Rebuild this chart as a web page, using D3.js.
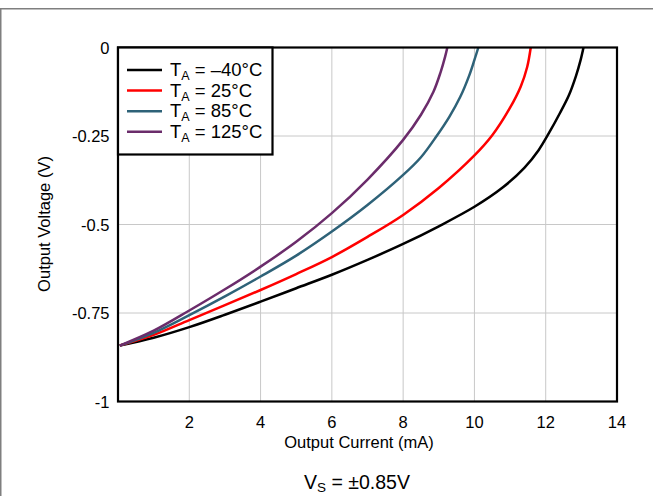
<!DOCTYPE html>
<html><head><meta charset="utf-8">
<script src="https://cdn.jsdelivr.net/npm/d3@7"></script>
<style>body{margin:0;background:#fff}svg{display:block}text{font-family:"Liberation Sans",Arial,sans-serif;fill:#000}</style>
</head><body><div id="chart"></div>
<script>
const xTicks = [2, 4, 6, 8, 10, 12, 14];
const yTicks = [0, -0.25, -0.5, -0.75, -1];
const yTickLabels = ["0", "-0.25", "-0.5", "-0.75", "-1"];
const seriesNames = ["–40°C", "25°C", "85°C", "125°C"];
const seriesColors = ["#000000", "#ff0000", "#2e6278", "#6b2c6b"];
const ta_m40 = [[0.05,-0.842],[1,-0.82],[2,-0.79],[3,-0.755],[4,-0.718],[5,-0.68],[6,-0.642],[7,-0.60],[8,-0.555],[9,-0.505],[10,-0.45],[10.8,-0.395],[11.4,-0.34],[11.8,-0.29],[12.1,-0.24],[12.4,-0.185],[12.65,-0.135],[12.85,-0.08],[12.98,-0.035],[13.06,0]];
const ta_25 = [[0.05,-0.842],[1,-0.812],[2,-0.77],[3,-0.728],[4,-0.685],[5,-0.64],[6,-0.592],[7,-0.535],[8,-0.473],[9,-0.397],[10,-0.305],[10.5,-0.248],[11,-0.17],[11.3,-0.11],[11.48,-0.055],[11.58,0]];
const ta_85 = [[0.05,-0.842],[1,-0.806],[2,-0.756],[3,-0.703],[4,-0.647],[5,-0.588],[6,-0.52],[7,-0.445],[8,-0.36],[8.5,-0.31],[8.94,-0.25],[9.3,-0.195],[9.6,-0.14],[9.85,-0.08],[10.0,-0.035],[10.11,0]];
const ta_125 = [[0.05,-0.842],[1,-0.80],[2,-0.743],[3,-0.683],[4,-0.619],[5,-0.549],[6,-0.468],[7,-0.373],[8,-0.261],[8.5,-0.19],[8.85,-0.125],[9.05,-0.07],[9.18,-0.025],[9.24,0]];
const series = [ta_m40, ta_25, ta_85, ta_125];

const W = 653, H = 496;
const m = {left: 118, right: 617, top: 47.5, bottom: 401.5};
const svg = d3.select("#chart").append("svg").attr("width", W).attr("height", H);

// outer frame
svg.append("path").attr("d", `M0.75,${H} V8.75 H${W}`).attr("fill","none").attr("stroke","#7f7f7f").attr("stroke-width",1.5);

const x = d3.scaleLinear().domain([0, 14]).range([m.left, m.right]);
const y = d3.scaleLinear().domain([-1, 0]).range([m.bottom, m.top]);

// grid
const g = svg.append("g");
g.selectAll(".vg").data(xTicks.filter(t => t < 14)).join("line")
  .attr("x1", d => x(d)).attr("x2", d => x(d)).attr("y1", m.top).attr("y2", m.bottom)
  .attr("stroke", "#c8c8c8").attr("stroke-width", 1);
g.selectAll(".hg").data(yTicks.filter(t => t < 0 && t > -1)).join("line")
  .attr("y1", d => y(d)).attr("y2", d => y(d)).attr("x1", m.left).attr("x2", m.right)
  .attr("stroke", "#c8c8c8").attr("stroke-width", 1);

// curves
const line = d3.line().x(d => x(d[0])).y(d => y(d[1])).curve(d3.curveCatmullRom.alpha(0.5));
svg.append("g").selectAll("path").data(series).join("path")
  .attr("d", line).attr("fill", "none")
  .attr("stroke", (d, i) => seriesColors[i]).attr("stroke-width", 2.5);

// plot border
svg.append("rect").attr("x", m.left).attr("y", m.top).attr("width", m.right - m.left).attr("height", m.bottom - m.top)
  .attr("fill", "none").attr("stroke", "#000").attr("stroke-width", 2.2);

// tick labels
svg.append("g").selectAll("text").data(xTicks).join("text")
  .attr("x", d => x(d)).attr("y", 428).attr("text-anchor", "middle").attr("font-size", 16.5).text(d => d);
svg.append("g").selectAll("text").data(yTicks).join("text")
  .attr("x", 109.5).attr("y", d => y(d) + 6).attr("text-anchor", "end").attr("font-size", 16.5)
  .text((d, i) => yTickLabels[i]);

// axis titles
svg.append("text").attr("x", 359).attr("y", 448).attr("text-anchor", "middle").attr("font-size", 16.5).text("Output Current (mA)");
svg.append("text").attr("transform", "translate(50,224) rotate(-90)").attr("text-anchor", "middle").attr("font-size", 16.5).text("Output Voltage (V)");

// bottom note
const note = svg.append("text").attr("x", 357).attr("y", 489).attr("text-anchor", "middle").attr("font-size", 19.5);
note.append("tspan").text("V");
note.append("tspan").attr("font-size", 13.5).attr("dy", 3).text("S");
note.append("tspan").attr("dy", -3).text(" = ±0.85V");

// legend
const lg = svg.append("g");
lg.append("rect").attr("x", 118).attr("y", 47.5).attr("width", 154.5).attr("height", 107)
  .attr("fill", "#fff").attr("stroke", "#000").attr("stroke-width", 2.2);
const rows = lg.selectAll("g").data(seriesNames).join("g")
  .attr("transform", (d, i) => `translate(0,${70 + i * 20.6})`);
rows.append("line").attr("x1", 127).attr("x2", 162).attr("y1", 0).attr("y2", 0)
  .attr("stroke", (d, i) => seriesColors[i]).attr("stroke-width", 2.5);
const lt = rows.append("text").attr("x", 170).attr("y", 6).attr("font-size", 18.5);
lt.append("tspan").text("T");
lt.append("tspan").attr("font-size", 12.5).attr("dy", 4).text("A");
lt.append("tspan").attr("dy", -4).text(d => " = " + d);
</script></body></html>
